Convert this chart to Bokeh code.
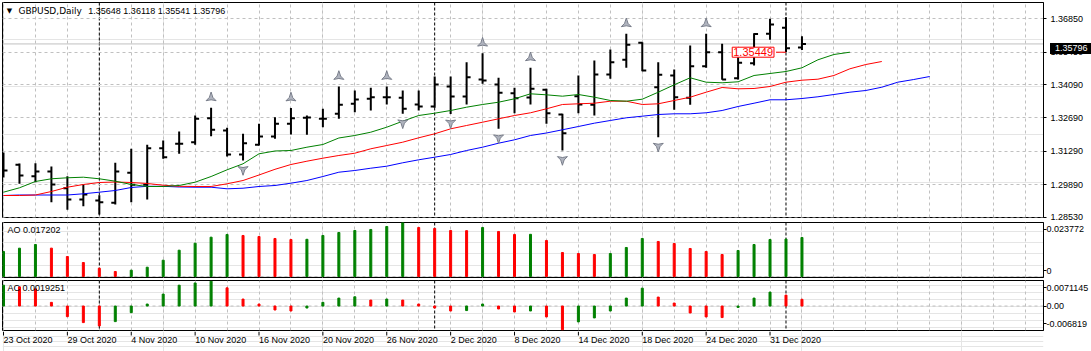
import numpy as np
from bokeh.plotting import figure
from bokeh.layouts import column
from bokeh.models import (Range1d, LinearAxis, FixedTicker, Grid, Span, Label, Div,
                          PrintfTickFormatter, ColumnDataSource)
from bokeh.core.properties import value
from bokeh.embed import file_html
from bokeh.resources import INLINE

# ---------------- data ----------------
symbol_title = "GBPUSD,Daily"
last_ohlc = "1.35648 1.36118 1.35541 1.35796"

opens = [1.30572, 1.30727, 1.30249, 1.30446, 1.29745, 1.29271, 1.29229, 1.29133, 1.30391, 1.29888,
         1.31423, 1.31607, 1.31675, 1.32681, 1.32165, 1.31159, 1.31566, 1.31914, 1.32446, 1.32698,
         1.32656, 1.32866, 1.33285, 1.33495, 1.33562, 1.33537, 1.33256, 1.33172, 1.34011, 1.33591,
         1.34304, 1.34095, 1.33730, 1.33549, 1.33872, 1.32836, 1.33604, 1.33243, 1.34514, 1.35130,
         1.35843, 1.33981, 1.34472, 1.33537, 1.34862, 1.35450, 1.34359, 1.34988, 1.36220, 1.36473,
         1.35648]
highs = [1.31243, 1.30781, 1.30794, 1.30656, 1.30249, 1.29900, 1.29452, 1.30811, 1.31398, 1.31566,
         1.31746, 1.32123, 1.32794, 1.33117, 1.32279, 1.32027, 1.32446, 1.32723, 1.33110, 1.32794,
         1.33075, 1.34011, 1.33843, 1.33956, 1.34011, 1.33843, 1.33843, 1.34430, 1.34430, 1.35030,
         1.35407, 1.34376, 1.33956, 1.34795, 1.33914, 1.32866, 1.34472, 1.35101, 1.35562, 1.36221,
         1.35869, 1.35030, 1.34724, 1.35730, 1.36221, 1.35801, 1.35240, 1.36246, 1.36850, 1.36918,
         1.36118]
lows = [1.30194, 1.29930, 1.29997, 1.29158, 1.28840, 1.28990, 1.28642, 1.29062, 1.29158, 1.29271,
        1.30978, 1.31188, 1.31566, 1.31926, 1.31075, 1.30907, 1.31536, 1.31817, 1.31998, 1.31985,
        1.32304, 1.32656, 1.32933, 1.33004, 1.33256, 1.32866, 1.33004, 1.33117, 1.32860, 1.33256,
        1.34124, 1.32237, 1.32891, 1.33256, 1.32446, 1.31327, 1.32891, 1.32794, 1.34334, 1.34795,
        1.34652, 1.31884, 1.33033, 1.33243, 1.34795, 1.34292, 1.34304, 1.34891, 1.35969, 1.35450,
        1.35541]
closes = [1.30488, 1.30278, 1.30446, 1.29900, 1.29271, 1.29481, 1.29158, 1.30446, 1.29888, 1.31423,
          1.31045, 1.31612, 1.32656, 1.32195, 1.31159, 1.31633, 1.31914, 1.32446, 1.32681, 1.32711,
          1.32660, 1.33243, 1.33465, 1.33562, 1.33565, 1.33075, 1.33172, 1.34095, 1.33591, 1.34401,
          1.34262, 1.33746, 1.33520, 1.33914, 1.32891, 1.32052, 1.33256, 1.34514, 1.35030, 1.35760,
          1.34682, 1.34501, 1.33562, 1.34862, 1.35450, 1.34304, 1.35005, 1.36210, 1.36611, 1.35617,
          1.35796]

# Alligator lines (green lips, red teeth, blue jaw), shifted forward past the last bar
lips = [1.29578, 1.29762, 1.30027, 1.30140, 1.30182, 1.30207, 1.30140, 1.30039, 1.29901, 1.29817,
        1.29817, 1.29859, 1.29997, 1.30236, 1.30517, 1.30769, 1.31188, 1.31306, 1.31327, 1.31465,
        1.31578, 1.31851, 1.31956, 1.32094, 1.32304, 1.32555, 1.32794, 1.32891, 1.33004, 1.33143,
        1.33256, 1.33352, 1.33495, 1.33704, 1.33662, 1.33604, 1.33675, 1.33562, 1.33424, 1.33394,
        1.33478, 1.33772, 1.34082, 1.34376, 1.34191, 1.34166, 1.34208, 1.34472, 1.34556, 1.34640,
        1.34795, 1.35130, 1.35353, 1.35449]
teeth = [1.29439, 1.29439, 1.29460, 1.29607, 1.29787, 1.29901, 1.29984, 1.30005, 1.29984, 1.29942,
         1.29871, 1.29825, 1.29817, 1.29817, 1.29930, 1.30068, 1.30299, 1.30538, 1.30739, 1.30878,
         1.31004, 1.31117, 1.31213, 1.31398, 1.31536, 1.31675, 1.31859, 1.32027, 1.32236, 1.32375,
         1.32513, 1.32656, 1.32794, 1.32908, 1.33075, 1.33256, 1.33285, 1.33310, 1.33394, 1.33394,
         1.33256, 1.33285, 1.33424, 1.33562, 1.33772, 1.33969, 1.33914, 1.33927, 1.34011, 1.34191,
         1.34275, 1.34317, 1.34472, 1.34753, 1.34933, 1.35059]
jaw = [1.29439, 1.29460, 1.29460, 1.29460, 1.29460, 1.29511, 1.29578, 1.29649, 1.29775, 1.29825,
       1.29825, 1.29796, 1.29787, 1.29787, 1.29720, 1.29745, 1.29817, 1.29859, 1.29955, 1.30068,
       1.30236, 1.30416, 1.30488, 1.30584, 1.30668, 1.30811, 1.30936, 1.31046, 1.31159, 1.31327,
       1.31465, 1.31633, 1.31775, 1.31956, 1.32061, 1.32195, 1.32333, 1.32472, 1.32585, 1.32698,
       1.32765, 1.32836, 1.32866, 1.32866, 1.32908, 1.33004, 1.33172, 1.33310, 1.33453, 1.33453,
       1.33507, 1.33579, 1.33675, 1.33772, 1.33843, 1.33981, 1.34191, 1.34304, 1.34430]

fractal_up = [13, 18, 21, 24, 30, 33, 39, 44]
fractal_down = [6, 15, 25, 28, 31, 35, 41]

ao = [0.01103, 0.01248, 0.01411, 0.01250, 0.00882, 0.00617, 0.00366, 0.00221, 0.00278, 0.00410,
      0.00719, 0.01160, 0.01469, 0.01733, 0.01852, 0.01808, 0.01764, 0.01676, 0.01632, 0.01640,
      0.01808, 0.01940, 0.02029, 0.02073, 0.02205, 0.023772, 0.02161, 0.02117, 0.02029, 0.02020,
      0.02161, 0.01985, 0.01852, 0.01860, 0.01588, 0.01058, 0.01014, 0.00970, 0.01014, 0.01279,
      0.01676, 0.01544, 0.01455, 0.01235, 0.01103, 0.00970, 0.01147, 0.01411, 0.01632, 0.01650,
      0.017202]
ac = [0.00596, 0.00548, 0.00491, 0.00105, -0.00304, -0.00474, -0.00568, -0.00446, -0.00190, 0.00057,
      0.00341, 0.00596, 0.00660, 0.0071145, 0.00520, 0.00199, 0.00057, -0.00114, -0.00142, -0.00057,
      0.00105, 0.00227, 0.00264, 0.00170, 0.00199, 0.00170, 0.00057, -0.00057, -0.00142, -0.00130,
      0.00057, -0.00085, -0.00170, -0.00142, -0.00312, -0.006819, -0.00454, -0.00341, -0.00142, 0.00227,
      0.00511, 0.00256, 0.00085, -0.00199, -0.00312, -0.00330, -0.00040, 0.00227, 0.00398, 0.00312,
      0.0019251]

price_ticks = [1.28530, 1.29890, 1.31290, 1.32690, 1.34090, 1.35450, 1.36850]
date_ticks = [0, 4, 8, 12, 16, 20, 24, 28, 32, 36, 40, 44, 48]
date_labels = ["23 Oct 2020", "29 Oct 2020", "4 Nov 2020", "10 Nov 2020", "16 Nov 2020",
               "20 Nov 2020", "26 Nov 2020", "2 Dec 2020", "8 Dec 2020", "14 Dec 2020",
               "18 Dec 2020", "24 Dec 2020", "31 Dec 2020"]
separators = [6, 27, 49]
last_price = 1.35796
mark_bar = 49
mark_price = 1.35449

# ---------------- styling / layout ----------------
FONT = "Liberation Sans"
W = 1091
BL, BR = 2, 46
FW = W - BL - BR
X0, X1 = -0.0625, 65.125
xpx = (X1 - X0) / FW
xr = Range1d(X0, X1)

GRID = "#c0c0c0"
GREEN, RED, BLUE = "#008000", "#ff0000", "#0000ff"
grid_bars = list(range(0, 66, 2))


def make_fig(h, top, bottom, yr, outline=True):
    f = figure(width=W, height=h, x_range=xr, y_range=yr, output_backend="svg",
               toolbar_location=None, x_axis_location=None, y_axis_location=None,
               min_border_left=BL, min_border_right=BR, min_border_top=top,
               min_border_bottom=bottom)
    f.outline_line_color = "black" if outline else None
    f.outline_line_width = 1
    f.background_fill_color = "white"
    f.border_fill_color = "white"
    return f


def add_vgrid(f):
    f.add_layout(Grid(dimension=0, ticker=FixedTicker(ticks=grid_bars),
                      grid_line_color=GRID, grid_line_dash="3 3"))
    for b in separators:
        f.add_layout(Span(location=b, dimension="height", line_color="black",
                          line_dash="3 2", line_width=1, level="underlay"))


def right_axis(f, ticks, overrides=None, fmt=None, standoff=3):
    ax = LinearAxis(ticker=FixedTicker(ticks=ticks), major_tick_out=3, major_tick_in=0,
                    minor_tick_out=0, minor_tick_in=0, major_label_standoff=standoff,
                    axis_line_color="black", major_tick_line_color="black",
                    major_label_text_font=FONT, major_label_text_font_size="9px",
                    major_label_text_color="black")
    if fmt:
        ax.formatter = PrintfTickFormatter(format=fmt)
    if overrides:
        ax.major_label_overrides = overrides
    f.add_layout(ax, "right")


n = len(opens)
idx = np.arange(n)

# ---------------- main price panel ----------------
MAIN_TOP = 2
MAIN_FH = 215
P_HI, P_LO = 1.375336, 1.285165
ppx = (P_HI - P_LO) / MAIN_FH
pm = make_fig(221, MAIN_TOP, 4, Range1d(P_LO, P_HI))
add_vgrid(pm)
pm.add_layout(Grid(dimension=1, ticker=FixedTicker(ticks=price_ticks),
                   grid_line_color=GRID, grid_line_dash="3 3"))
pm.add_layout(Span(location=last_price, dimension="width", line_color="#c0c0c0",
                   line_width=1, level="underlay"))
right_axis(pm, price_ticks, fmt="%.5f", standoff=4)

src = ColumnDataSource(dict(x=idx, o=opens, h=highs, l=lows, c=closes,
                            xl=idx - 0.25, xr=idx + 0.25))
pm.segment(x0="x", y0="l", x1="x", y1="h", source=src, line_color="black", line_width=2)
pm.segment(x0="xl", y0="o", x1="x", y1="o", source=src, line_color="black", line_width=2)
pm.segment(x0="x", y0="c", x1="xr", y1="c", source=src, line_color="black", line_width=2)

pm.line(np.arange(len(jaw)), jaw, line_color=BLUE, line_width=1)
pm.line(np.arange(len(teeth)), teeth, line_color=RED, line_width=1)
pm.line(np.arange(len(lips)), lips, line_color=GREEN, line_width=1)

up_y = [highs[b] + 10 * ppx for b in fractal_up]
dn_y = [lows[b] - 9 * ppx for b in fractal_down]
pm.scatter(fractal_up, up_y, marker="triangle_pin", size=10,
           fill_color="#b0b4bf", line_color="#767b88", line_width=1)
pm.scatter(fractal_down, dn_y, marker="triangle_pin", size=10, angle=np.pi,
           fill_color="#b0b4bf", line_color="#767b88", line_width=1)

# marked price (red box with a short line to the bar)
pm.segment(x0=[mark_bar - 10 * xpx], y0=[mark_price], x1=[mark_bar], y1=[mark_price],
           line_color=RED, line_width=1)
pm.add_layout(Label(x=mark_bar, y=mark_price, x_offset=-12, text=f"{mark_price:.5f}",
                    text_align="right", text_baseline="middle", text_color=RED,
                    text_font=FONT, text_font_size="11px", background_fill_color="white",
                    border_line_color=RED, padding=1))

# header
pm.add_layout(Label(x=X0 + 7 * xpx, y=P_HI - 8 * ppx, text="\u25bc", text_align="center",
                    text_baseline="middle", text_font="DejaVu Sans", text_font_size="7px",
                    text_color="black"))
pm.add_layout(Label(x=X0 + 16 * xpx, y=P_HI - 8 * ppx, text=symbol_title, text_align="left",
                    text_baseline="middle", text_font="DejaVu Sans", text_font_size="9px",
                    text_color="black"))
pm.add_layout(Label(x=X0 + 86 * xpx, y=P_HI - 8 * ppx, text=last_ohlc, text_align="left",
                    text_baseline="middle", text_font=FONT, text_font_size="9px",
                    text_color="black"))

# ---------------- AO panel ----------------
AO_FH = 55
AO_HI, AO_LO = 0.0238, -0.00044
ao_px = (AO_HI - AO_LO) / AO_FH
pa = make_fig(57, 1, 1, Range1d(AO_LO, AO_HI))
add_vgrid(pa)
pa.add_layout(Span(location=0, dimension="width", line_color=GRID, line_dash="3 3",
                   level="underlay"))
ao_col = [GREEN if i == 0 or ao[i] > ao[i - 1] else RED for i in range(len(ao))]
pa.vbar(x=idx, top=ao, bottom=0, width=2 * xpx, color=ao_col)
t_ao_hi = round(AO_HI - 7 * ao_px, 6)
t_ao_lo = round(AO_HI - 48 * ao_px, 6)
right_axis(pa, [t_ao_lo, t_ao_hi],
           overrides={t_ao_hi: f"{max(ao):.6f}", t_ao_lo: "0"}, standoff=0)
pa.add_layout(Label(x=X0 + 5 * xpx, y=AO_HI - 7 * ao_px, text=f"AO {ao[-1]:.6f}",
                    text_align="left", text_baseline="middle", text_font=FONT,
                    text_font_size="9px", text_color="black"))

# ---------------- AC panel ----------------
AC_FH = 50
AC_HI, AC_LO = 0.0073, -0.0070
ac_px = (AC_HI - AC_LO) / AC_FH
pc = make_fig(53, 2, 1, Range1d(AC_LO, AC_HI))
add_vgrid(pc)
pc.add_layout(Span(location=0, dimension="width", line_color=GRID, line_dash="3 3",
                   level="underlay"))
ac_col = [GREEN if i == 0 or ac[i] > ac[i - 1] else RED for i in range(len(ac))]
pc.vbar(x=idx, top=ac, bottom=0, width=2 * xpx, color=ac_col)
t_ac_hi = round(AC_HI - 7 * ac_px, 6)
t_ac_lo = round(AC_HI - 43 * ac_px, 6)
right_axis(pc, [t_ac_lo, 0.0, t_ac_hi],
           overrides={t_ac_hi: f"{max(ac):.7f}", 0.0: "0.00", t_ac_lo: f"{min(ac):.6f}"},
           standoff=0)
pc.add_layout(Label(x=X0 + 5 * xpx, y=AC_HI - 7 * ac_px, text=f"AC {ac[-1]:.7f}",
                    text_align="left", text_baseline="middle", text_font=FONT,
                    text_font_size="9px", text_color="black"))

# ---------------- date strip ----------------
pd_ = make_fig(20, 0, 0, Range1d(0, 20), outline=False)
pd_.segment(x0=date_ticks, y0=20, x1=date_ticks, y1=16, line_color="black", line_width=1)
pd_.text(x=date_ticks, y=12, text=date_labels, text_font=value(FONT), text_font_size="9px",
         text_align="left", text_baseline="middle", text_color="black", x_offset=0)

# ---------------- current-price badge on the price scale (overlaid) ----------------
BADGE_W, BADGE_H = 45, 11
badge_top = int(round(MAIN_TOP + (P_HI - last_price) / ppx - BADGE_H / 2))
badge = Div(text=f"{last_price:.5f}", width=BADGE_W, height=BADGE_H,
            styles={"position": "absolute", "left": f"{W - BR}px", "top": f"{badge_top}px",
                    "background-color": "black", "color": "white",
                    "font-family": "'Liberation Sans'", "font-size": "9px",
                    "line-height": f"{BADGE_H}px", "padding-left": "5px",
                    "box-sizing": "border-box", "overflow": "hidden",
                    "white-space": "nowrap"})

layout = column(pm, pa, pc, pd_, badge, spacing=0)
open("out.html", "w").write(file_html(layout, INLINE))
